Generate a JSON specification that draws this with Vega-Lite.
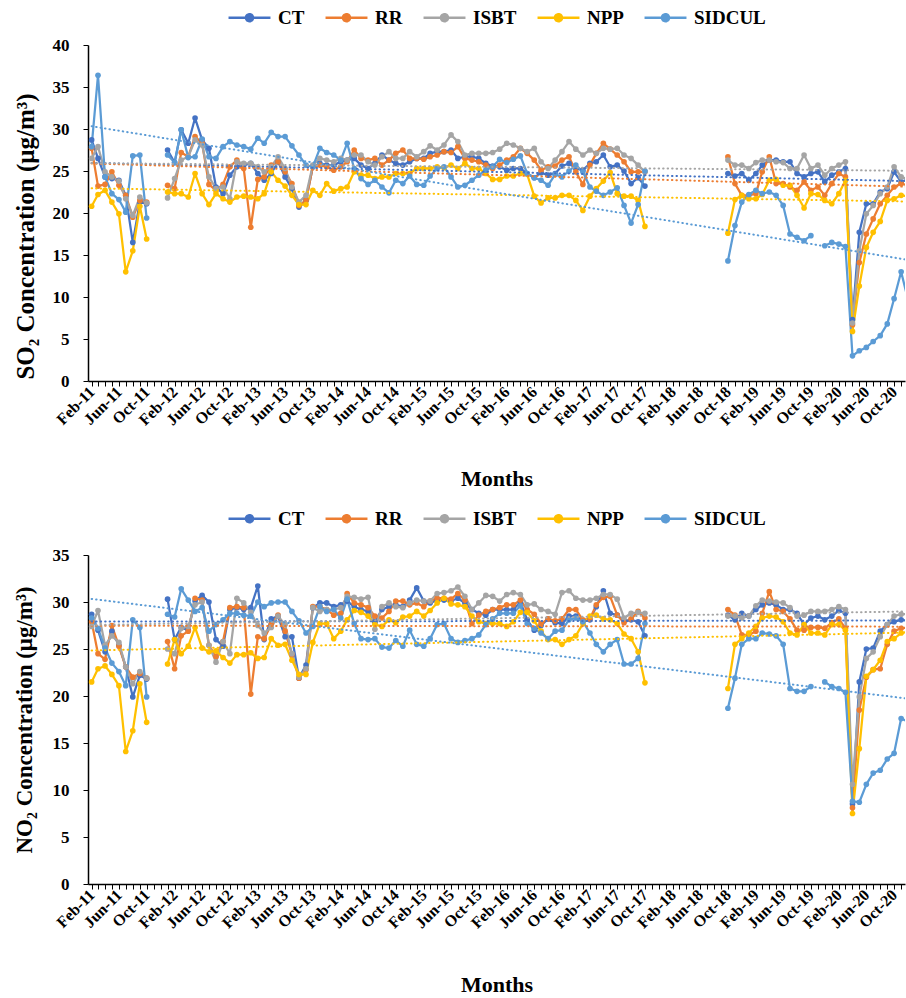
{
  "$schema": "https://vega.github.io/schema/vega-lite/v6.json",
  "background": "white",
  "padding": {"left": 13, "top": 8, "right": 0, "bottom": 0},
  "spacing": 19,
  "datasets": {
    "so2": [
      {"d":"2011-02","CT":28.7,"RR":27.7,"ISBT":26.5,"NPP":20.8,"SIDCUL":27.9},
      {"d":"2011-03","CT":26.5,"RR":23.2,"ISBT":27.9,"NPP":22.2,"SIDCUL":36.4},
      {"d":"2011-04","CT":24.3,"RR":23.4,"ISBT":24.9,"NPP":22.7,"SIDCUL":24.3},
      {"d":"2011-05","CT":24.1,"RR":24.9,"ISBT":24.3,"NPP":21.3,"SIDCUL":22.3},
      {"d":"2011-06","CT":23.9,"RR":23.3,"ISBT":23.8,"NPP":19.9,"SIDCUL":21.6},
      {"d":"2011-07","CT":22.1,"RR":22.1,"ISBT":21.7,"NPP":13.0,"SIDCUL":20.1},
      {"d":"2011-08","CT":16.5,"RR":19.5,"ISBT":19.7,"NPP":15.5,"SIDCUL":26.8},
      {"d":"2011-09","CT":21.3,"RR":21.5,"ISBT":21.9,"NPP":20.8,"SIDCUL":26.9},
      {"d":"2011-10","CT":21.1,"RR":21.3,"ISBT":21.2,"NPP":16.9,"SIDCUL":19.4},
      {"d":"2011-12","CT":null,"RR":null,"ISBT":null,"NPP":null,"SIDCUL":null},
      {"d":"2012-01","CT":27.5,"RR":23.3,"ISBT":21.8,"NPP":22.5,"SIDCUL":26.9},
      {"d":"2012-02","CT":26.0,"RR":22.9,"ISBT":24.1,"NPP":22.3,"SIDCUL":26.0},
      {"d":"2012-03","CT":29.9,"RR":27.2,"ISBT":26.3,"NPP":22.3,"SIDCUL":29.9},
      {"d":"2012-04","CT":28.3,"RR":26.7,"ISBT":26.7,"NPP":21.9,"SIDCUL":26.6},
      {"d":"2012-05","CT":31.3,"RR":29.1,"ISBT":28.7,"NPP":24.7,"SIDCUL":26.7},
      {"d":"2012-06","CT":28.7,"RR":28.3,"ISBT":28.1,"NPP":22.3,"SIDCUL":28.8},
      {"d":"2012-07","CT":27.7,"RR":23.4,"ISBT":24.3,"NPP":21.0,"SIDCUL":26.7},
      {"d":"2012-08","CT":23.1,"RR":22.7,"ISBT":22.9,"NPP":22.3,"SIDCUL":26.5},
      {"d":"2012-09","CT":22.3,"RR":23.4,"ISBT":23.1,"NPP":21.7,"SIDCUL":27.9},
      {"d":"2012-10","CT":24.5,"RR":25.5,"ISBT":21.7,"NPP":21.3,"SIDCUL":28.5},
      {"d":"2012-11","CT":25.5,"RR":26.3,"ISBT":26.1,"NPP":21.9,"SIDCUL":28.1},
      {"d":"2012-12","CT":25.7,"RR":25.3,"ISBT":25.9,"NPP":22.0,"SIDCUL":27.9},
      {"d":"2013-01","CT":25.9,"RR":18.3,"ISBT":25.9,"NPP":21.9,"SIDCUL":27.6},
      {"d":"2013-02","CT":24.7,"RR":24.0,"ISBT":25.5,"NPP":21.7,"SIDCUL":28.9},
      {"d":"2013-03","CT":23.9,"RR":24.3,"ISBT":24.9,"NPP":22.3,"SIDCUL":28.3},
      {"d":"2013-04","CT":24.7,"RR":25.7,"ISBT":25.5,"NPP":24.9,"SIDCUL":29.6},
      {"d":"2013-05","CT":26.1,"RR":26.1,"ISBT":26.7,"NPP":23.9,"SIDCUL":29.1},
      {"d":"2013-06","CT":24.3,"RR":24.9,"ISBT":25.3,"NPP":23.2,"SIDCUL":29.1},
      {"d":"2013-07","CT":22.9,"RR":23.5,"ISBT":23.1,"NPP":22.1,"SIDCUL":28.0},
      {"d":"2013-08","CT":20.7,"RR":20.9,"ISBT":21.3,"NPP":21.0,"SIDCUL":26.9},
      {"d":"2013-09","CT":21.5,"RR":21.5,"ISBT":22.1,"NPP":21.0,"SIDCUL":25.7},
      {"d":"2013-10","CT":25.5,"RR":25.5,"ISBT":25.7,"NPP":22.7,"SIDCUL":25.5},
      {"d":"2013-11","CT":25.9,"RR":25.7,"ISBT":26.5,"NPP":22.1,"SIDCUL":27.7},
      {"d":"2013-12","CT":25.7,"RR":25.5,"ISBT":26.3,"NPP":23.5,"SIDCUL":27.2},
      {"d":"2014-01","CT":25.7,"RR":25.1,"ISBT":26.1,"NPP":22.6,"SIDCUL":26.9},
      {"d":"2014-02","CT":26.1,"RR":25.5,"ISBT":26.5,"NPP":22.9,"SIDCUL":26.3},
      {"d":"2014-03","CT":26.3,"RR":26.1,"ISBT":26.3,"NPP":23.1,"SIDCUL":28.3},
      {"d":"2014-04","CT":26.5,"RR":27.5,"ISBT":26.9,"NPP":24.9,"SIDCUL":25.3},
      {"d":"2014-05","CT":25.7,"RR":26.5,"ISBT":26.9,"NPP":24.5,"SIDCUL":24.1},
      {"d":"2014-06","CT":25.3,"RR":26.3,"ISBT":26.1,"NPP":24.5,"SIDCUL":23.4},
      {"d":"2014-07","CT":25.9,"RR":26.5,"ISBT":25.7,"NPP":24.1,"SIDCUL":23.9},
      {"d":"2014-08","CT":26.9,"RR":25.7,"ISBT":26.7,"NPP":24.3,"SIDCUL":23.1},
      {"d":"2014-09","CT":26.3,"RR":26.3,"ISBT":27.3,"NPP":24.3,"SIDCUL":22.4},
      {"d":"2014-10","CT":25.9,"RR":27.1,"ISBT":26.5,"NPP":24.7,"SIDCUL":23.9},
      {"d":"2014-11","CT":25.7,"RR":27.5,"ISBT":26.5,"NPP":24.7,"SIDCUL":23.5},
      {"d":"2014-12","CT":26.1,"RR":26.5,"ISBT":27.3,"NPP":24.7,"SIDCUL":24.4},
      {"d":"2015-01","CT":26.5,"RR":26.5,"ISBT":26.7,"NPP":25.3,"SIDCUL":23.4},
      {"d":"2015-02","CT":26.5,"RR":26.4,"ISBT":27.3,"NPP":25.3,"SIDCUL":23.3},
      {"d":"2015-03","CT":27.1,"RR":26.7,"ISBT":28.0,"NPP":25.3,"SIDCUL":24.4},
      {"d":"2015-04","CT":27.3,"RR":26.9,"ISBT":27.5,"NPP":25.5,"SIDCUL":25.3},
      {"d":"2015-05","CT":27.3,"RR":27.3,"ISBT":28.1,"NPP":25.4,"SIDCUL":25.5},
      {"d":"2015-06","CT":27.5,"RR":27.2,"ISBT":29.3,"NPP":25.7,"SIDCUL":24.3},
      {"d":"2015-07","CT":26.5,"RR":27.9,"ISBT":28.5,"NPP":25.3,"SIDCUL":23.1},
      {"d":"2015-08","CT":26.7,"RR":26.5,"ISBT":26.9,"NPP":25.9,"SIDCUL":23.3},
      {"d":"2015-09","CT":26.7,"RR":26.3,"ISBT":27.1,"NPP":25.3,"SIDCUL":23.9},
      {"d":"2015-10","CT":26.5,"RR":26.1,"ISBT":27.1,"NPP":25.3,"SIDCUL":24.5},
      {"d":"2015-11","CT":25.9,"RR":25.7,"ISBT":27.1,"NPP":24.7,"SIDCUL":25.1},
      {"d":"2015-12","CT":25.6,"RR":25.3,"ISBT":27.2,"NPP":24.0,"SIDCUL":25.5},
      {"d":"2016-01","CT":25.5,"RR":25.7,"ISBT":27.6,"NPP":24.0,"SIDCUL":26.4},
      {"d":"2016-02","CT":25.1,"RR":26.3,"ISBT":28.3,"NPP":24.4,"SIDCUL":26.0},
      {"d":"2016-03","CT":25.3,"RR":26.7,"ISBT":28.1,"NPP":24.4,"SIDCUL":26.4},
      {"d":"2016-04","CT":25.3,"RR":27.7,"ISBT":27.7,"NPP":24.7,"SIDCUL":26.8},
      {"d":"2016-05","CT":24.7,"RR":27.1,"ISBT":27.3,"NPP":24.6,"SIDCUL":24.7},
      {"d":"2016-06","CT":24.2,"RR":26.3,"ISBT":27.7,"NPP":22.0,"SIDCUL":24.2},
      {"d":"2016-07","CT":24.8,"RR":25.1,"ISBT":26.1,"NPP":21.2,"SIDCUL":23.9},
      {"d":"2016-08","CT":24.5,"RR":25.5,"ISBT":25.3,"NPP":21.8,"SIDCUL":23.3},
      {"d":"2016-09","CT":24.7,"RR":25.6,"ISBT":26.3,"NPP":21.8,"SIDCUL":24.6},
      {"d":"2016-10","CT":25.6,"RR":26.3,"ISBT":27.3,"NPP":22.1,"SIDCUL":24.3},
      {"d":"2016-11","CT":25.9,"RR":26.7,"ISBT":28.5,"NPP":22.1,"SIDCUL":25.0},
      {"d":"2016-12","CT":25.3,"RR":24.9,"ISBT":27.6,"NPP":21.5,"SIDCUL":25.7},
      {"d":"2017-01","CT":25.1,"RR":23.4,"ISBT":26.9,"NPP":20.3,"SIDCUL":24.9},
      {"d":"2017-02","CT":25.9,"RR":25.7,"ISBT":27.5,"NPP":22.0,"SIDCUL":23.1},
      {"d":"2017-03","CT":26.1,"RR":27.1,"ISBT":27.1,"NPP":22.9,"SIDCUL":22.6},
      {"d":"2017-04","CT":26.9,"RR":28.3,"ISBT":27.7,"NPP":23.8,"SIDCUL":22.1},
      {"d":"2017-05","CT":25.5,"RR":27.6,"ISBT":27.6,"NPP":24.8,"SIDCUL":22.5},
      {"d":"2017-06","CT":25.7,"RR":26.9,"ISBT":27.7,"NPP":22.3,"SIDCUL":23.0},
      {"d":"2017-07","CT":25.0,"RR":26.1,"ISBT":26.9,"NPP":22.0,"SIDCUL":20.9},
      {"d":"2017-08","CT":23.5,"RR":24.9,"ISBT":26.5,"NPP":22.0,"SIDCUL":18.8},
      {"d":"2017-09","CT":24.2,"RR":24.9,"ISBT":25.7,"NPP":21.5,"SIDCUL":21.0},
      {"d":"2017-10","CT":23.2,"RR":24.9,"ISBT":24.9,"NPP":18.4,"SIDCUL":25.0},
      {"d":"2018-04","CT":null,"RR":null,"ISBT":null,"NPP":null,"SIDCUL":null},
      {"d":"2018-10","CT":24.7,"RR":26.7,"ISBT":26.3,"NPP":17.6,"SIDCUL":14.3},
      {"d":"2018-11","CT":24.4,"RR":23.5,"ISBT":25.7,"NPP":21.6,"SIDCUL":18.5},
      {"d":"2018-12","CT":24.7,"RR":22.1,"ISBT":25.7,"NPP":22.1,"SIDCUL":21.3},
      {"d":"2019-01","CT":23.9,"RR":22.1,"ISBT":25.3,"NPP":21.7,"SIDCUL":22.2},
      {"d":"2019-02","CT":24.7,"RR":22.3,"ISBT":26.0,"NPP":21.7,"SIDCUL":22.7},
      {"d":"2019-03","CT":25.7,"RR":24.9,"ISBT":26.3,"NPP":22.2,"SIDCUL":22.3},
      {"d":"2019-04","CT":26.3,"RR":26.7,"ISBT":26.3,"NPP":23.9,"SIDCUL":22.5},
      {"d":"2019-05","CT":26.3,"RR":23.5,"ISBT":26.1,"NPP":24.0,"SIDCUL":22.1},
      {"d":"2019-06","CT":26.1,"RR":23.5,"ISBT":26.0,"NPP":23.3,"SIDCUL":20.9},
      {"d":"2019-07","CT":26.1,"RR":23.1,"ISBT":25.3,"NPP":23.3,"SIDCUL":17.5},
      {"d":"2019-08","CT":24.7,"RR":22.7,"ISBT":25.3,"NPP":22.1,"SIDCUL":17.1},
      {"d":"2019-09","CT":24.3,"RR":23.7,"ISBT":26.9,"NPP":20.6,"SIDCUL":16.7},
      {"d":"2019-10","CT":24.7,"RR":22.7,"ISBT":25.3,"NPP":22.3,"SIDCUL":17.3},
      {"d":"2019-11","CT":24.9,"RR":23.1,"ISBT":25.7,"NPP":22.2,"SIDCUL":null},
      {"d":"2019-12","CT":23.7,"RR":22.1,"ISBT":24.5,"NPP":21.5,"SIDCUL":16.1},
      {"d":"2020-01","CT":24.5,"RR":23.5,"ISBT":25.3,"NPP":21.1,"SIDCUL":16.5},
      {"d":"2020-02","CT":24.9,"RR":24.7,"ISBT":25.7,"NPP":22.3,"SIDCUL":16.3},
      {"d":"2020-03","CT":25.3,"RR":24.3,"ISBT":26.1,"NPP":23.9,"SIDCUL":16.0},
      {"d":"2020-04","CT":7.3,"RR":6.7,"ISBT":6.9,"NPP":5.9,"SIDCUL":3.0},
      {"d":"2020-05","CT":17.7,"RR":14.1,"ISBT":15.5,"NPP":11.3,"SIDCUL":3.6},
      {"d":"2020-06","CT":21.1,"RR":17.5,"ISBT":19.9,"NPP":15.9,"SIDCUL":4.0},
      {"d":"2020-07","CT":21.1,"RR":19.3,"ISBT":20.9,"NPP":17.7,"SIDCUL":4.7},
      {"d":"2020-08","CT":22.5,"RR":21.1,"ISBT":22.3,"NPP":19.0,"SIDCUL":5.4},
      {"d":"2020-09","CT":22.9,"RR":22.1,"ISBT":23.1,"NPP":21.5,"SIDCUL":6.8},
      {"d":"2020-10","CT":24.9,"RR":23.1,"ISBT":25.5,"NPP":21.7,"SIDCUL":9.8},
      {"d":"2020-11","CT":23.7,"RR":23.5,"ISBT":24.3,"NPP":22.1,"SIDCUL":13.0},
      {"d":"2020-12","CT":24.0,"RR":23.3,"ISBT":24.0,"NPP":22.0,"SIDCUL":9.7}
    ],
    "no2": [
      {"d":"2011-02","CT":28.7,"RR":27.9,"ISBT":27.4,"NPP":21.5,"SIDCUL":28.3},
      {"d":"2011-03","CT":27.0,"RR":24.5,"ISBT":29.1,"NPP":22.9,"SIDCUL":27.2},
      {"d":"2011-04","CT":24.7,"RR":23.9,"ISBT":25.4,"NPP":23.2,"SIDCUL":25.1},
      {"d":"2011-05","CT":26.9,"RR":27.5,"ISBT":26.4,"NPP":22.3,"SIDCUL":23.5},
      {"d":"2011-06","CT":25.4,"RR":25.3,"ISBT":25.7,"NPP":21.1,"SIDCUL":22.6},
      {"d":"2011-07","CT":23.1,"RR":23.1,"ISBT":23.1,"NPP":14.1,"SIDCUL":21.1},
      {"d":"2011-08","CT":19.9,"RR":22.0,"ISBT":21.3,"NPP":16.3,"SIDCUL":28.1},
      {"d":"2011-09","CT":22.2,"RR":22.4,"ISBT":22.6,"NPP":21.3,"SIDCUL":27.3},
      {"d":"2011-10","CT":21.8,"RR":21.9,"ISBT":21.9,"NPP":17.2,"SIDCUL":19.9},
      {"d":"2011-12","CT":null,"RR":null,"ISBT":null,"NPP":null,"SIDCUL":null},
      {"d":"2012-01","CT":30.3,"RR":25.8,"ISBT":25.0,"NPP":23.4,"SIDCUL":28.7},
      {"d":"2012-02","CT":26.0,"RR":22.9,"ISBT":24.5,"NPP":26.0,"SIDCUL":28.4},
      {"d":"2012-03","CT":27.3,"RR":26.4,"ISBT":27.2,"NPP":24.5,"SIDCUL":31.4},
      {"d":"2012-04","CT":27.0,"RR":26.9,"ISBT":27.4,"NPP":25.3,"SIDCUL":30.2},
      {"d":"2012-05","CT":30.1,"RR":30.4,"ISBT":29.7,"NPP":27.3,"SIDCUL":29.0},
      {"d":"2012-06","CT":30.7,"RR":30.2,"ISBT":30.0,"NPP":25.1,"SIDCUL":29.4},
      {"d":"2012-07","CT":30.0,"RR":25.4,"ISBT":25.4,"NPP":24.7,"SIDCUL":26.9},
      {"d":"2012-08","CT":26.0,"RR":24.2,"ISBT":23.6,"NPP":24.8,"SIDCUL":27.6},
      {"d":"2012-09","CT":25.3,"RR":25.8,"ISBT":25.8,"NPP":24.1,"SIDCUL":28.1},
      {"d":"2012-10","CT":29.2,"RR":29.4,"ISBT":24.5,"NPP":23.5,"SIDCUL":28.8},
      {"d":"2012-11","CT":29.4,"RR":29.5,"ISBT":30.4,"NPP":24.4,"SIDCUL":28.8},
      {"d":"2012-12","CT":29.2,"RR":29.4,"ISBT":29.9,"NPP":24.4,"SIDCUL":28.6},
      {"d":"2013-01","CT":29.4,"RR":20.2,"ISBT":28.9,"NPP":24.6,"SIDCUL":28.5},
      {"d":"2013-02","CT":31.7,"RR":26.3,"ISBT":27.5,"NPP":24.0,"SIDCUL":30.0},
      {"d":"2013-03","CT":26.0,"RR":26.1,"ISBT":26.7,"NPP":24.1,"SIDCUL":29.5},
      {"d":"2013-04","CT":28.2,"RR":27.6,"ISBT":27.3,"NPP":26.1,"SIDCUL":29.9},
      {"d":"2013-05","CT":28.5,"RR":28.6,"ISBT":28.5,"NPP":25.4,"SIDCUL":30.0},
      {"d":"2013-06","CT":26.3,"RR":26.9,"ISBT":27.6,"NPP":25.5,"SIDCUL":30.0},
      {"d":"2013-07","CT":26.3,"RR":24.4,"ISBT":24.5,"NPP":23.8,"SIDCUL":29.0},
      {"d":"2013-08","CT":21.9,"RR":21.9,"ISBT":22.0,"NPP":22.3,"SIDCUL":28.0},
      {"d":"2013-09","CT":23.3,"RR":22.8,"ISBT":22.9,"NPP":22.3,"SIDCUL":26.7},
      {"d":"2013-10","CT":29.4,"RR":29.5,"ISBT":29.4,"NPP":25.7,"SIDCUL":27.4},
      {"d":"2013-11","CT":29.9,"RR":29.5,"ISBT":29.0,"NPP":27.7,"SIDCUL":29.5},
      {"d":"2013-12","CT":29.9,"RR":29.2,"ISBT":29.2,"NPP":27.7,"SIDCUL":29.0},
      {"d":"2014-01","CT":29.5,"RR":28.6,"ISBT":29.2,"NPP":26.1,"SIDCUL":29.2},
      {"d":"2014-02","CT":29.7,"RR":28.8,"ISBT":29.4,"NPP":26.9,"SIDCUL":28.3},
      {"d":"2014-03","CT":30.1,"RR":30.9,"ISBT":30.6,"NPP":28.1,"SIDCUL":30.3},
      {"d":"2014-04","CT":29.5,"RR":29.9,"ISBT":30.5,"NPP":29.1,"SIDCUL":27.7},
      {"d":"2014-05","CT":29.2,"RR":29.7,"ISBT":30.3,"NPP":28.9,"SIDCUL":26.1},
      {"d":"2014-06","CT":29.0,"RR":29.4,"ISBT":30.5,"NPP":28.5,"SIDCUL":26.0},
      {"d":"2014-07","CT":27.9,"RR":28.5,"ISBT":27.1,"NPP":27.6,"SIDCUL":26.1},
      {"d":"2014-08","CT":29.2,"RR":28.3,"ISBT":29.5,"NPP":27.4,"SIDCUL":25.2},
      {"d":"2014-09","CT":29.5,"RR":29.0,"ISBT":29.9,"NPP":28.1,"SIDCUL":25.1},
      {"d":"2014-10","CT":29.7,"RR":30.1,"ISBT":29.5,"NPP":27.8,"SIDCUL":25.9},
      {"d":"2014-11","CT":29.5,"RR":30.1,"ISBT":29.4,"NPP":28.4,"SIDCUL":25.3},
      {"d":"2014-12","CT":30.2,"RR":29.7,"ISBT":29.9,"NPP":28.5,"SIDCUL":27.0},
      {"d":"2015-01","CT":31.5,"RR":29.9,"ISBT":30.2,"NPP":29.0,"SIDCUL":25.5},
      {"d":"2015-02","CT":30.1,"RR":29.5,"ISBT":30.1,"NPP":28.5,"SIDCUL":25.3},
      {"d":"2015-03","CT":29.9,"RR":30.1,"ISBT":30.1,"NPP":29.1,"SIDCUL":26.1},
      {"d":"2015-04","CT":30.2,"RR":30.4,"ISBT":30.9,"NPP":29.9,"SIDCUL":27.6},
      {"d":"2015-05","CT":30.2,"RR":30.4,"ISBT":31.0,"NPP":30.4,"SIDCUL":27.7},
      {"d":"2015-06","CT":30.1,"RR":30.3,"ISBT":31.2,"NPP":29.8,"SIDCUL":26.1},
      {"d":"2015-07","CT":30.4,"RR":30.9,"ISBT":31.6,"NPP":29.7,"SIDCUL":25.7},
      {"d":"2015-08","CT":29.9,"RR":30.2,"ISBT":30.6,"NPP":29.5,"SIDCUL":25.9},
      {"d":"2015-09","CT":29.2,"RR":27.7,"ISBT":29.2,"NPP":28.5,"SIDCUL":26.1},
      {"d":"2015-10","CT":28.8,"RR":28.6,"ISBT":29.9,"NPP":27.9,"SIDCUL":26.5},
      {"d":"2015-11","CT":28.6,"RR":29.0,"ISBT":30.7,"NPP":27.7,"SIDCUL":27.6},
      {"d":"2015-12","CT":29.2,"RR":29.2,"ISBT":30.6,"NPP":27.7,"SIDCUL":28.2},
      {"d":"2016-01","CT":29.2,"RR":29.4,"ISBT":30.1,"NPP":27.7,"SIDCUL":28.8},
      {"d":"2016-02","CT":29.2,"RR":29.7,"ISBT":30.8,"NPP":27.4,"SIDCUL":28.8},
      {"d":"2016-03","CT":29.2,"RR":29.7,"ISBT":31.0,"NPP":27.9,"SIDCUL":28.8},
      {"d":"2016-04","CT":30.0,"RR":30.2,"ISBT":30.8,"NPP":28.9,"SIDCUL":29.6},
      {"d":"2016-05","CT":28.1,"RR":29.2,"ISBT":29.7,"NPP":28.9,"SIDCUL":27.7},
      {"d":"2016-06","CT":27.0,"RR":28.7,"ISBT":29.8,"NPP":28.0,"SIDCUL":27.2},
      {"d":"2016-07","CT":27.5,"RR":27.7,"ISBT":29.2,"NPP":26.9,"SIDCUL":26.7},
      {"d":"2016-08","CT":28.2,"RR":28.2,"ISBT":29.0,"NPP":26.0,"SIDCUL":26.1},
      {"d":"2016-09","CT":27.8,"RR":28.0,"ISBT":28.7,"NPP":26.0,"SIDCUL":26.9},
      {"d":"2016-10","CT":27.7,"RR":28.2,"ISBT":31.0,"NPP":25.5,"SIDCUL":27.0},
      {"d":"2016-11","CT":28.5,"RR":29.2,"ISBT":31.2,"NPP":26.0,"SIDCUL":28.1},
      {"d":"2016-12","CT":28.5,"RR":29.2,"ISBT":30.4,"NPP":26.4,"SIDCUL":28.3},
      {"d":"2017-01","CT":28.0,"RR":28.1,"ISBT":30.2,"NPP":27.7,"SIDCUL":27.9},
      {"d":"2017-02","CT":28.1,"RR":28.2,"ISBT":30.2,"NPP":28.5,"SIDCUL":26.7},
      {"d":"2017-03","CT":29.5,"RR":29.7,"ISBT":30.4,"NPP":28.6,"SIDCUL":25.5},
      {"d":"2017-04","CT":31.2,"RR":30.5,"ISBT":30.8,"NPP":28.2,"SIDCUL":24.7},
      {"d":"2017-05","CT":28.8,"RR":30.6,"ISBT":30.8,"NPP":28.1,"SIDCUL":25.5},
      {"d":"2017-06","CT":28.6,"RR":28.6,"ISBT":30.3,"NPP":27.7,"SIDCUL":26.0},
      {"d":"2017-07","CT":28.0,"RR":27.8,"ISBT":28.3,"NPP":26.6,"SIDCUL":23.4},
      {"d":"2017-08","CT":28.1,"RR":28.2,"ISBT":28.8,"NPP":26.1,"SIDCUL":23.4},
      {"d":"2017-09","CT":27.9,"RR":29.0,"ISBT":28.9,"NPP":24.7,"SIDCUL":24.0},
      {"d":"2017-10","CT":26.4,"RR":28.3,"ISBT":28.8,"NPP":21.4,"SIDCUL":27.7},
      {"d":"2018-04","CT":null,"RR":null,"ISBT":null,"NPP":null,"SIDCUL":null},
      {"d":"2018-10","CT":28.6,"RR":29.2,"ISBT":28.5,"NPP":20.8,"SIDCUL":18.7},
      {"d":"2018-11","CT":28.1,"RR":28.6,"ISBT":28.5,"NPP":25.5,"SIDCUL":21.9},
      {"d":"2018-12","CT":28.8,"RR":26.5,"ISBT":28.3,"NPP":26.1,"SIDCUL":25.5},
      {"d":"2019-01","CT":28.5,"RR":26.5,"ISBT":28.5,"NPP":26.7,"SIDCUL":26.1},
      {"d":"2019-02","CT":29.2,"RR":26.9,"ISBT":29.6,"NPP":27.4,"SIDCUL":26.1},
      {"d":"2019-03","CT":29.7,"RR":28.8,"ISBT":30.2,"NPP":28.3,"SIDCUL":26.7},
      {"d":"2019-04","CT":29.9,"RR":31.1,"ISBT":30.1,"NPP":28.5,"SIDCUL":26.6},
      {"d":"2019-05","CT":29.7,"RR":29.2,"ISBT":30.0,"NPP":28.4,"SIDCUL":26.4},
      {"d":"2019-06","CT":29.2,"RR":29.0,"ISBT":29.9,"NPP":27.9,"SIDCUL":25.5},
      {"d":"2019-07","CT":29.2,"RR":28.2,"ISBT":29.4,"NPP":26.7,"SIDCUL":20.8},
      {"d":"2019-08","CT":28.8,"RR":27.0,"ISBT":28.5,"NPP":26.5,"SIDCUL":20.5},
      {"d":"2019-09","CT":27.6,"RR":27.0,"ISBT":28.6,"NPP":27.6,"SIDCUL":20.5},
      {"d":"2019-10","CT":28.3,"RR":27.3,"ISBT":29.0,"NPP":26.7,"SIDCUL":21.0},
      {"d":"2019-11","CT":28.5,"RR":27.3,"ISBT":29.0,"NPP":26.7,"SIDCUL":null},
      {"d":"2019-12","CT":28.1,"RR":27.2,"ISBT":29.0,"NPP":26.5,"SIDCUL":21.5},
      {"d":"2020-01","CT":28.5,"RR":27.8,"ISBT":29.2,"NPP":27.6,"SIDCUL":21.0},
      {"d":"2020-02","CT":29.1,"RR":28.2,"ISBT":29.5,"NPP":27.6,"SIDCUL":20.8},
      {"d":"2020-03","CT":28.8,"RR":27.2,"ISBT":29.2,"NPP":27.0,"SIDCUL":20.4},
      {"d":"2020-04","CT":8.5,"RR":8.1,"ISBT":10.6,"NPP":7.5,"SIDCUL":8.8},
      {"d":"2020-05","CT":21.5,"RR":18.5,"ISBT":19.9,"NPP":14.4,"SIDCUL":8.7},
      {"d":"2020-06","CT":25.0,"RR":22.0,"ISBT":24.0,"NPP":22.1,"SIDCUL":10.6},
      {"d":"2020-07","CT":25.1,"RR":22.8,"ISBT":24.7,"NPP":22.8,"SIDCUL":11.8},
      {"d":"2020-08","CT":26.9,"RR":22.9,"ISBT":26.3,"NPP":23.8,"SIDCUL":12.1},
      {"d":"2020-09","CT":27.6,"RR":25.5,"ISBT":27.6,"NPP":25.8,"SIDCUL":13.3},
      {"d":"2020-10","CT":27.9,"RR":26.9,"ISBT":28.5,"NPP":26.1,"SIDCUL":13.9},
      {"d":"2020-11","CT":28.1,"RR":27.2,"ISBT":28.7,"NPP":26.7,"SIDCUL":17.6},
      {"d":"2020-12","CT":28.0,"RR":27.3,"ISBT":28.7,"NPP":26.8,"SIDCUL":17.3}
    ]
  },
  "vconcat": [
    {
      "width": 817,
      "height": 336,
      "encoding": {
        "x": {
          "field": "d", "type": "temporal", "title": "Months",
          "scale": {"type": "utc", "domain": ["2011-01-16", "2020-11-18"], "nice": false},
          "axis": {
            "tickCount": {"interval": "month", "step": 1},
            "labelExpr": "indexof([1,5,9], utcmonth(datum.value)) >= 0 ? utcFormat(datum.value, '%b-%y') : ''",
            "labelAngle": -45, "labelAlign": "right", "labelBaseline": "middle", "labelFontSize": 16, "labelOverlap": false, "labelFlush": false, "labelBound": false,
            "tickSize": 5, "labelPadding": 3, "titleFontSize": 22, "titlePadding": 41
          }
        },
        "y": {
          "field": "v", "type": "quantitative", "title": "SO₂ Concentration (μg/m³)",
          "scale": {"domain": [0, 40], "nice": false},
          "axis": {"values": [0, 5, 10, 15, 20, 25, 30, 35, 40], "labelFontSize": 17, "tickSize": 5, "labelPadding": 14, "titleFontSize": 25, "titlePadding": 14, "titleY": 191}
        }
      },
      "layer": [
        {
          "data": {"name": "so2"},
          "transform": [{"fold": ["CT", "RR", "ISBT", "NPP", "SIDCUL"], "as": ["site", "v"]}],
          "mark": {"type": "line", "strokeWidth": 2.25, "strokeJoin": "round", "clip": true, "invalid": "break-paths-filter-domains", "point": {"filled": true, "size": 32}},
          "encoding": {
            "color": {
              "field": "site", "type": "nominal",
              "scale": {"domain": ["CT", "RR", "ISBT", "NPP", "SIDCUL"], "range": ["#4472C4", "#ED7D31", "#A5A5A5", "#FFC000", "#5B9BD5"]},
              "legend": {"orient": "none", "legendX": 152, "legendY": -37}
            }
          }
        },
        {
          "data": {"name": "so2"},
          "transform": [
            {"fold": ["CT", "RR", "ISBT", "NPP", "SIDCUL"], "as": ["site", "v"]},
            {"regression": "v", "on": "d", "groupby": ["site"]}
          ],
          "mark": {"type": "line", "strokeWidth": 2, "strokeDash": [0.5, 4], "strokeCap": "round", "clip": true},
          "encoding": {
            "color": {
              "field": "site", "type": "nominal",
              "scale": {"domain": ["CT", "RR", "ISBT", "NPP", "SIDCUL"], "range": ["#4472C4", "#ED7D31", "#A5A5A5", "#FFC000", "#5B9BD5"]},
              "legend": null
            }
          }
        },
        {
          "data": {"values": [{}]},
          "mark": {"type": "text", "text": "(a)", "align": "right", "baseline": "middle", "fontSize": 22, "fontWeight": "bold", "font": "Liberation Serif", "color": "black"},
          "encoding": {
            "x": {"datum": {"year": 2020, "month": 10, "date": 1, "utc": true}, "type": "temporal"},
            "y": {"datum": 36.9, "type": "quantitative"}
          }
        }
      ]
    },
    {
      "width": 817,
      "height": 329,
      "encoding": {
        "x": {
          "field": "d", "type": "temporal", "title": "Months",
          "scale": {"type": "utc", "domain": ["2011-01-16", "2020-11-18"], "nice": false},
          "axis": {
            "tickCount": {"interval": "month", "step": 1},
            "labelExpr": "indexof([1,5,9], utcmonth(datum.value)) >= 0 ? utcFormat(datum.value, '%b-%y') : ''",
            "labelAngle": -45, "labelAlign": "right", "labelBaseline": "middle", "labelFontSize": 16, "labelOverlap": false, "labelFlush": false, "labelBound": false,
            "tickSize": 5, "labelPadding": 3, "titleFontSize": 22, "titlePadding": 44
          }
        },
        "y": {
          "field": "v", "type": "quantitative", "title": "NO₂ Concentration (μg/m³)",
          "scale": {"domain": [0, 35], "nice": false},
          "axis": {"values": [0, 5, 10, 15, 20, 25, 30, 35], "labelFontSize": 17, "tickSize": 5, "labelPadding": 14, "titleFontSize": 23, "titlePadding": 16}
        }
      },
      "layer": [
        {
          "data": {"name": "no2"},
          "transform": [{"fold": ["CT", "RR", "ISBT", "NPP", "SIDCUL"], "as": ["site", "v"]}],
          "mark": {"type": "line", "strokeWidth": 2.25, "strokeJoin": "round", "clip": true, "invalid": "break-paths-filter-domains", "point": {"filled": true, "size": 32}},
          "encoding": {
            "color": {
              "field": "site", "type": "nominal",
              "scale": {"domain": ["CT", "RR", "ISBT", "NPP", "SIDCUL"], "range": ["#4472C4", "#ED7D31", "#A5A5A5", "#FFC000", "#5B9BD5"]},
              "legend": {"orient": "none", "legendX": 152, "legendY": -46}
            }
          }
        },
        {
          "data": {"name": "no2"},
          "transform": [
            {"fold": ["CT", "RR", "ISBT", "NPP", "SIDCUL"], "as": ["site", "v"]},
            {"regression": "v", "on": "d", "groupby": ["site"]}
          ],
          "mark": {"type": "line", "strokeWidth": 2, "strokeDash": [0.5, 4], "strokeCap": "round", "clip": true},
          "encoding": {
            "color": {
              "field": "site", "type": "nominal",
              "scale": {"domain": ["CT", "RR", "ISBT", "NPP", "SIDCUL"], "range": ["#4472C4", "#ED7D31", "#A5A5A5", "#FFC000", "#5B9BD5"]},
              "legend": null
            }
          }
        },
        {
          "data": {"values": [{}]},
          "mark": {"type": "text", "text": "(b)", "align": "right", "baseline": "middle", "fontSize": 22, "fontWeight": "bold", "font": "Liberation Serif", "color": "black"},
          "encoding": {
            "x": {"datum": {"year": 2020, "month": 10, "date": 1, "utc": true}, "type": "temporal"},
            "y": {"datum": 32.3, "type": "quantitative"}
          }
        }
      ]
    }
  ],
  "resolve": {
    "scale": {"x": "independent", "y": "independent", "color": "shared"},
    "legend": {"color": "independent"}
  },
  "config": {
    "font": "Liberation Serif",
    "view": {"stroke": null},
    "axis": {
      "grid": false, "domainColor": "black", "domainWidth": 1.5, "tickColor": "black", "tickWidth": 1,
      "labelColor": "black", "titleColor": "black", "labelFont": "Liberation Serif", "titleFont": "Liberation Serif",
      "labelFontWeight": "bold", "titleFontWeight": "bold"
    },
    "legend": {
      "direction": "horizontal", "columns": 5, "title": null, "padding": 0,
      "symbolType": "M-4,0L4,0M-0.67,0A0.67,0.67,0,1,1,0.67,0A0.67,0.67,0,1,1,-0.67,0Z",
      "symbolSize": 110, "symbolStrokeWidth": 2.5, "symbolDash": [1, 0],
      "labelFont": "Liberation Serif", "labelFontSize": 19, "labelFontWeight": "bold", "labelColor": "black",
      "labelOffset": 19, "columnPadding": 15
    }
  }
}
